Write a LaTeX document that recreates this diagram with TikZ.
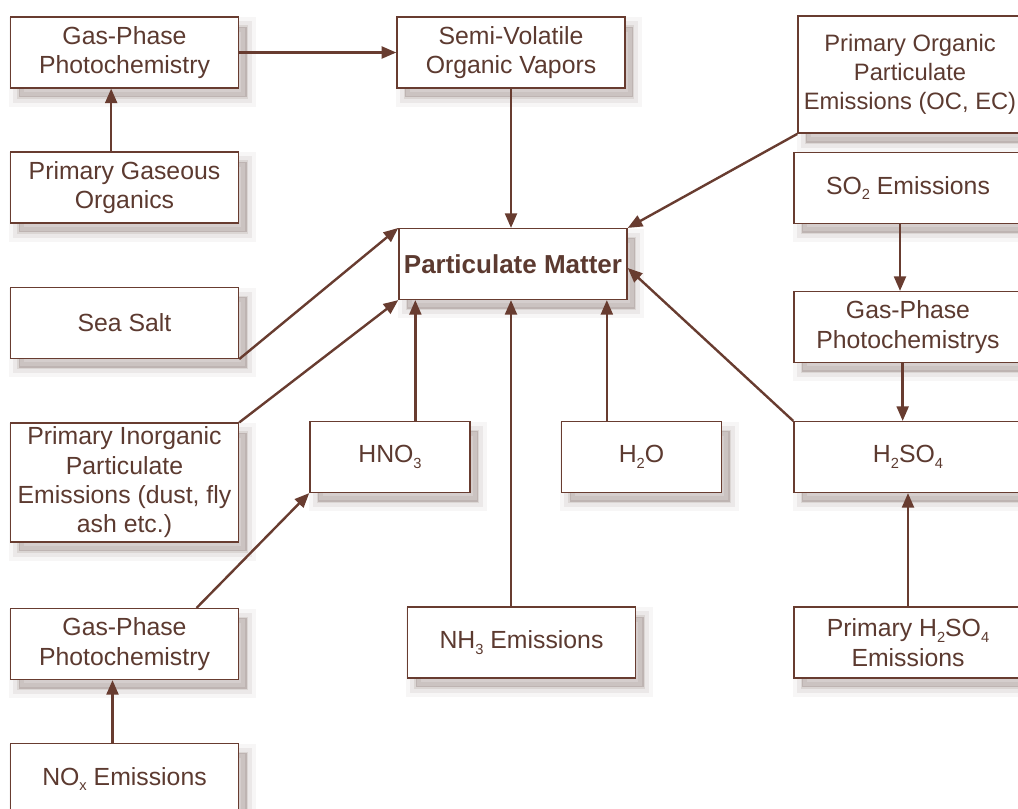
\documentclass[tikz,border=0pt]{standalone}
\usepackage{fontspec}
\setmainfont{Liberation Sans}
\usetikzlibrary{arrows.meta, shadows}

\definecolor{pmline}{RGB}{104,60,48}
\definecolor{pmtext}{RGB}{92,58,48}
\definecolor{pmshade}{RGB}{75,48,42}

% low, small index as in the sketch
\newcommand{\chemsub}[1]{\raisebox{-0.45ex}{\fontsize{11}{11}\selectfont #1}}

\begin{document}
\begin{tikzpicture}[
                > = {Triangle[length=11pt, width=9pt]}, % arrow head style
                x = 0.75pt, y = -0.75pt, % one unit is one pixel of the sketch
                line width = 1.8pt, draw = pmline % line style
            ]

            % three soft layers instead of a blurred shadow
            \tikzstyle{softshadow}=[
            general shadow = {fill = pmshade, draw = pmshade, line width = 14pt,
            opacity = 0.045, shadow xshift = 6pt, shadow yshift = -7pt},
            general shadow = {fill = pmshade, draw = pmshade, line width = 8pt,
            opacity = 0.07, shadow xshift = 6pt, shadow yshift = -7pt},
            general shadow = {fill = pmshade, draw = pmshade, line width = 2pt,
            opacity = 0.10, shadow xshift = 6pt, shadow yshift = -7pt}]

            \tikzstyle{box}=[softshadow, draw = pmline, line width = 1.1pt,
            fill = white, text = pmtext, align = center,
            minimum width = 171pt, minimum height = 53pt, inner sep = 2pt,
            font = \fontsize{18.6}{22}\selectfont]

            \useasboundingbox (0,0) rectangle (1018,808);
            \clip (0,0) rectangle (1018,808);

            % left column
            \node (gas1) [box] at (124.5,52.5) {Gas-Phase\\Photochemistry};
            \node (gasorg) [box] at (124.5,187.5) {Primary Gaseous\\Organics};
            \node (salt) [box] at (124.5,323) {Sea Salt};
            \node (inorg) [box, minimum height = 89pt] at (124.5,482.5)
            {Primary Inorganic\\Particulate\\Emissions (dust, fly\\ash etc.)};
            \node (gas3) [box] at (124.5,644) {Gas-Phase\\Photochemistry};
            \node (nox) [box] at (124.5,779) {NO\chemsub{x} Emissions};

            % middle
            \node (svoc) [box] at (511,52.5) {Semi-Volatile\\Organic Vapors};
            \node (pm) [box, font = \fontsize{19.5}{22}\selectfont\bfseries]
            at (513,264) {Particulate Matter};
            \node (hno3) [box, minimum width = 120pt] at (390,457)
            {HNO\chemsub{3}};
            \node (h2o) [box, minimum width = 120pt] at (641.5,457)
            {H\chemsub{2}O};
            \node (nh3) [box] at (521.5,642.5) {NH\chemsub{3} Emissions};

            % right column
            \node (orgpm) [box, minimum width = 168pt, minimum height = 88pt,
            font = \fontsize{17.8}{22}\selectfont] at (910,74.5)
            {Primary Organic\\Particulate\\Emissions (OC, EC)};
            \node (so2) [box] at (908,188) {SO\chemsub{2} Emissions};
            \node (gas2) [box] at (908,327) {Gas-Phase\\Photochemistrys};
            \node (h2so4) [box] at (908,457) {H\chemsub{2}SO\chemsub{4}};
            \node (h2so4em) [box] at (908,642.5)
            {Primary H\chemsub{2}SO\chemsub{4}\\Emissions};

            \path[->] (gas1) edge (svoc); \path[->] ([xshift=-10pt]gasorg.north)
            edge ([xshift=-10pt]gas1.south); \path[->] (svoc.south) edge
            (svoc.south |- pm.north); \path[->] (orgpm.south west) edge
            (pm.north east); \path[->] (salt.south east) edge (pm.north west);
            \path[->] (inorg.north east) edge (pm.south west);
            \path[->] ([xshift=19pt]hno3.north) edge ([xshift=19pt]hno3.north
            |- pm.south); \path[->] (nh3.north -| svoc.south) edge (pm.south
            -| svoc.south); \path[->] ([xshift=-26pt]h2o.north) edge
            ([xshift=-26pt]h2o.north |- pm.south); \path[->] (h2so4.north west)
            edge ([yshift=-3pt]pm.east); \path[->] ([xshift=-6pt]so2.south)
            edge ([xshift=-6pt]gas2.north); \path[->] ([xshift=-4pt]gas2.south)
            edge ([xshift=-4pt]h2so4.north); \path[->] (h2so4em.north) edge
            (h2so4.south); \path[->] ([xshift=-32pt]gas3.north east) edge
            (hno3.south west); \path[->] ([xshift=-9pt]nox.north) edge
            ([xshift=-9pt]gas3.south);

        \end{tikzpicture}
\end{document}
